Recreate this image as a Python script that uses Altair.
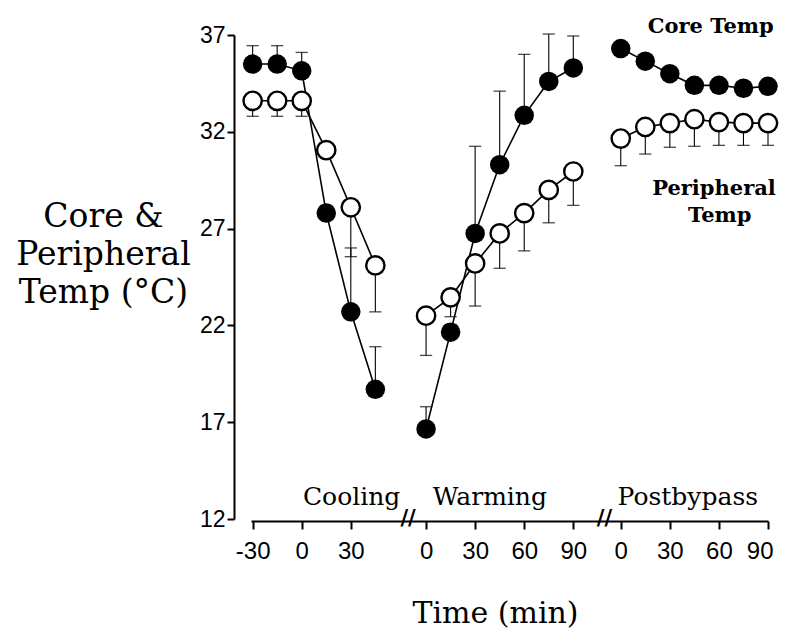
import altair as alt
import pandas as pd

# ---- data ----
cool_t = [-30, -15, 0, 15, 30, 45]
core_cool = [35.5, 35.5, 35.15, 27.8, 22.7, 18.7]
core_cool_err = [0.95, 0.95, 0.95, 0.4, 3.3, 2.2]
per_cool = [33.6, 33.6, 33.6, 31.05, 28.1, 25.1]
per_cool_err = [0.8, 0.8, 0.8, 0.4, 2.55, 2.4]

warm_t = [0, 15, 30, 45, 60, 75, 90]
core_warm = [16.65, 21.65, 26.75, 30.3, 32.85, 34.6, 35.3]
core_warm_err = [1.15, 0.4, 4.5, 3.8, 3.15, 2.45, 1.65]
per_warm = [22.5, 23.45, 25.2, 26.75, 27.8, 29.0, 29.95]
per_warm_err = [2.05, 1.0, 2.2, 1.8, 1.95, 1.7, 1.75]

post_t = [0, 15, 30, 45, 60, 75, 90]
core_post = [36.3, 35.65, 35.0, 34.4, 34.4, 34.25, 34.35]
core_post_err = [0.3, 0.3, 0.3, 0.3, 0.3, 0.3, 0.3]
per_post = [31.65, 32.25, 32.45, 32.65, 32.5, 32.45, 32.45]
per_post_err = [1.4, 1.4, 1.25, 1.4, 1.2, 1.15, 1.15]

phases = ["Cooling", "Warming", "Postbypass"]
phase_offset = {"Cooling": 0, "Warming": 76, "Postbypass": 195}  # position of each phase on the broken axis
tick_minutes = {"Cooling": [-30, 0, 30], "Warming": [0, 30, 60, 90], "Postbypass": [0, 30, 60, 90]}
break_pos = [65, 185]
y_ticks = [12, 17, 22, 27, 32, 37]

rows = []
for phase, ts, c, ce, p, pe in [
    ("Cooling", cool_t, core_cool, core_cool_err, per_cool, per_cool_err),
    ("Warming", warm_t, core_warm, core_warm_err, per_warm, per_warm_err),
    ("Postbypass", post_t, core_post, core_post_err, per_post, per_post_err),
]:
    for t, cv, cev, pv, pev in zip(ts, c, ce, p, pe):
        pos = phase_offset[phase] + t
        rows.append(dict(phase=phase, series="Core", t=t, pos=pos, temp=cv, end=cv + cev))
        rows.append(dict(phase=phase, series="Peripheral", t=t, pos=pos, temp=pv, end=pv - pev))
df = pd.DataFrame(rows)

tick_vals = []
tick_labels = []
for ph in phases:
    for m in tick_minutes[ph]:
        tick_vals.append(phase_offset[ph] + m)
        tick_labels.append(str(m))
label_expr = "''"
for v, l in reversed(list(zip(tick_vals, tick_labels))):
    label_expr = f"datum.value == {v} ? '{l}' : ({label_expr})"

X0, X1 = -31, 285
xscale = alt.Scale(domain=[X0, X1], nice=False, zero=False)
yscale = alt.Scale(domain=[12, 37], nice=False, zero=False)

SERIF = "DejaVu Serif"
NARROW = "Liberation Sans Narrow, Liberation Sans, Arial"

x_enc = alt.X("pos:Q", scale=xscale, axis=alt.Axis(
    values=tick_vals, labelExpr=label_expr, title="Time (min)", grid=False,
    domainColor="black", domainWidth=2, tickColor="black", tickWidth=2, tickSize=8,
    labelFont=NARROW, labelFontSize=24, labelColor="black", labelPadding=10,
    labelFlush=1, labelFlushOffset=5, labelOverlap=False,
    titleFont=SERIF, titleFontSize=30, titleFontWeight="normal", titleColor="black",
    titleX=244, titleY=101, titleBaseline="alphabetic", titleAnchor="middle", offset=2))
y_enc = alt.Y("temp:Q", scale=yscale, axis=alt.Axis(
    values=y_ticks, title=["Core &", "Peripheral", "Temp (°C)"], grid=False,
    domainColor="black", domainWidth=2, tickColor="black", tickWidth=2, tickSize=7,
    labelFont=NARROW, labelFontSize=23, labelColor="black", labelPadding=2,
    labelFlush=False, labelOverlap=False,
    titleFont=SERIF, titleFontSize=33, titleFontWeight="normal", titleColor="black",
    titleAngle=0, titleAlign="center", titleBaseline="alphabetic", titleLineHeight=38,
    titleX=-131, titleY=191, offset=17))

base = alt.Chart(df)

lines = base.mark_line(color="black", strokeWidth=1.6).encode(
    x=x_enc, y=y_enc, detail=["series:N", "phase:N"], order="t:Q")

bars = base.mark_rule(color="black", strokeWidth=1.1).encode(
    x="pos:Q", y="temp:Q", y2="end:Q")
caps = base.mark_point(shape="M-1,0H1", size=150, color="black", filled=False,
                       strokeWidth=1.3).encode(x="pos:Q", y="end:Q")

core_pts = base.transform_filter(alt.datum.series == "Core").mark_point(
    shape="circle", filled=True, size=380, color="black", opacity=1).encode(x="pos:Q", y="temp:Q")
per_pts = base.transform_filter(alt.datum.series == "Peripheral").mark_point(
    shape="circle", filled=True, size=335, fill="white", stroke="black", strokeWidth=2.4,
    opacity=1).encode(x="pos:Q", y="temp:Q")

# phase names and axis break marks
phase_df = pd.DataFrame(dict(name=phases, pos=[30.5, 115, 236], temp=[12.7, 12.7, 12.7]))
phase_txt = alt.Chart(phase_df).mark_text(font=SERIF, fontSize=25, color="black",
                                          baseline="alphabetic", align="center").encode(
    x="pos:Q", y="temp:Q", text="name:N")

brk_df = pd.DataFrame(dict(pos=break_pos, temp=[12, 12], s=["//", "//"]))
brk_txt = alt.Chart(brk_df).mark_text(font="DejaVu Sans", fontSize=21, fontWeight="bold",
                                      color="black", baseline="middle", align="center").encode(
    x="pos:Q", y="temp:Q", text="s:N")

ann_df = pd.DataFrame(dict(label=["Core Temp", "Peripheral", "Temp"],
                           pos=[250, 252, 255.5], temp=[37.1, 28.75, 27.35]))
ann_txt = alt.Chart(ann_df).mark_text(font=SERIF, fontSize=21, fontWeight="bold", color="black",
                                      baseline="alphabetic", align="center").encode(
    x="pos:Q", y="temp:Q", text="label:N")

chart = alt.layer(lines, bars, caps, per_pts, core_pts, phase_txt, brk_txt, ann_txt).properties(
    width=517, height=484,
    autosize=alt.AutoSizeParams(type="none"),
    padding={"left": 243, "top": 27, "right": 11, "bottom": 110},
).configure_view(stroke=None)

chart.save("out.html", embed_options={"renderer": "svg", "actions": False})
